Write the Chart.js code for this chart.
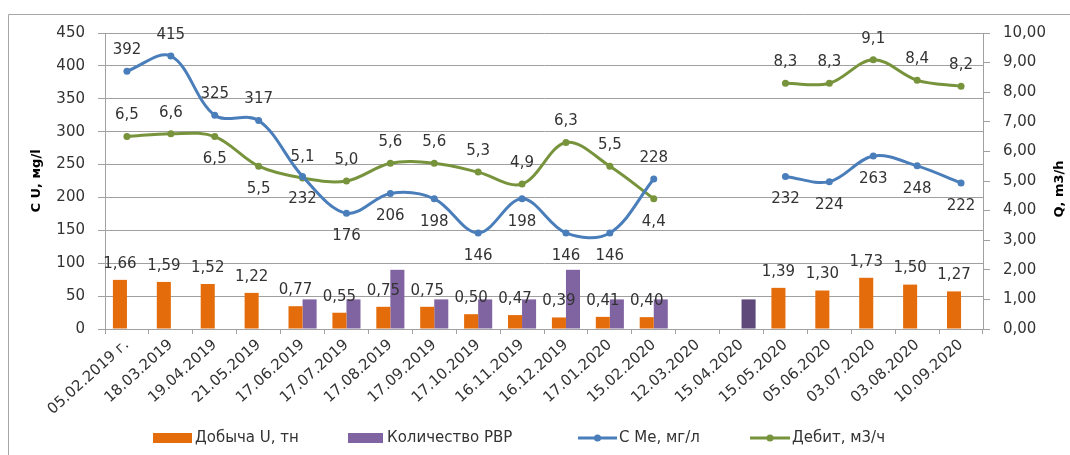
<!DOCTYPE html>
<html><head><meta charset="utf-8">
<script src="https://cdn.jsdelivr.net/npm/chart.js@4.4.1/dist/chart.umd.min.js"></script>
<style>html,body{margin:0;padding:0;background:#fff}#wrap{width:1070px;height:455px;position:relative}</style>
</head><body><div id="wrap"><canvas id="c" width="1070" height="455"></canvas></div>
<script>
const categories = ['05.02.2019 г.','18.03.2019','19.04.2019','21.05.2019','17.06.2019','17.07.2019','17.08.2019','17.09.2019','17.10.2019','16.11.2019','16.12.2019','17.01.2020','15.02.2020','12.03.2020','15.04.2020','15.05.2020','05.06.2020','03.07.2020','03.08.2020','10.09.2020'];
const uProduction = [1.66,1.59,1.52,1.22,0.77,0.55,0.75,0.75,0.50,0.47,0.39,0.41,0.40,null,null,1.39,1.30,1.73,1.50,1.27];
const rvrCount = [null,null,null,null,1,1,2,1,1,1,2,1,1,null,1,null,null,null,null,null];
const cMe = [392,415,325,317,232,176,206,198,146,198,146,146,228,null,null,232,224,263,248,222];
const debit = [6.5,6.6,6.5,5.5,5.1,5.0,5.6,5.6,5.3,4.9,6.3,5.5,4.4,null,null,8.3,8.3,9.1,8.4,8.2];
const leftTickValues = [0,50,100,150,200,250,300,350,400,450];
const rightTickValues = [0,1,2,3,4,5,6,7,8,9,10];

// label placement (style): 'a' = above, 'b' = below
const cMeLabelSide = ['a','a','a','a','b','b','b','b','b','b','b','b','a','a','a','b','b','b','b','b'];
const debitLabelSide = ['a','a','b','b','a','a','a','a','a','a','a','a','b','a','a','a','a','a','a','a'];

const FONT = 'DejaVu Sans';
const TXT = '#333333';
const GRID = '#a0a0a0';
const C_ORANGE = '#e46c0a', C_PURPLE = '#8064a2', C_PURPLE_DARK = '#5f497a', C_BLUE = '#4a7ebb', C_GREEN = '#77933c';

const purpleColors = categories.map(c => c === '15.04.2020' ? C_PURPLE_DARK : C_PURPLE);
const comma = (v, d) => v.toFixed(d).replace('.', ',');

const labelsPlugin = {
  id: 'valueLabels',
  afterDatasetsDraw(chart) {
    const ctx = chart.ctx;
    ctx.save();
    ctx.font = '15px "' + FONT + '"';
    ctx.fillStyle = TXT;
    ctx.textAlign = 'center';
    ctx.textBaseline = 'middle';
    chart.data.datasets.forEach((ds, di) => {
      const meta = chart.getDatasetMeta(di);
      meta.data.forEach((el, i) => {
        const v = ds.data[i];
        if (v === null || v === undefined) return;
        if (ds.key === 'u') {
          ctx.fillText(comma(v, 2), el.x, el.y - 16);
        } else if (ds.key === 'c') {
          const dy = cMeLabelSide[i] === 'a' ? -21 : 23;
          ctx.fillText(String(v), el.x, el.y + dy);
        } else if (ds.key === 'q') {
          const dy = debitLabelSide[i] === 'a' ? -21 : 23;
          ctx.fillText(comma(v, 1), el.x, el.y + dy);
        }
      });
    });
    ctx.restore();
  }
};

const decorPlugin = {
  id: 'decor',
  beforeDraw(chart) {
    const ctx = chart.ctx;
    ctx.save();
    ctx.fillStyle = '#fff';
    ctx.fillRect(0, 0, chart.width, chart.height);
    ctx.strokeStyle = '#a6a6a6';
    ctx.lineWidth = 1;
    ctx.beginPath();
    ctx.moveTo(8.5, chart.height);
    ctx.lineTo(8.5, 14.5);
    ctx.lineTo(chart.width, 14.5);
    ctx.stroke();
    ctx.restore();
  },
  afterDraw(chart) {
    const ctx = chart.ctx;
    ctx.save();
    // right axis title, reading bottom to top
    ctx.font = 'bold 13px "' + FONT + '"';
    ctx.fillStyle = '#000';
    ctx.textAlign = 'center';
    ctx.textBaseline = 'middle';
    ctx.translate(1060, 189);
    ctx.rotate(-Math.PI / 2);
    ctx.fillText('Q, m3/h', 0, 0);
    ctx.restore();

    // legend
    ctx.save();
    ctx.font = '15px "' + FONT + '"';
    ctx.fillStyle = TXT;
    ctx.textBaseline = 'middle';
    const ly = 438;
    const ds = chart.data.datasets;
    ctx.fillStyle = C_ORANGE; ctx.fillRect(153, 433, 39, 10);
    ctx.fillStyle = TXT; ctx.fillText(ds[2].label, 195, ly);
    ctx.fillStyle = C_PURPLE; ctx.fillRect(348, 433, 35, 10);
    ctx.fillStyle = TXT; ctx.fillText(ds[3].label, 387, ly);
    const lineItem = (x0, x1, col, label, tx) => {
      ctx.strokeStyle = col; ctx.lineWidth = 3;
      ctx.beginPath(); ctx.moveTo(x0, ly); ctx.lineTo(x1, ly); ctx.stroke();
      ctx.fillStyle = col; ctx.beginPath(); ctx.arc((x0 + x1) / 2, ly, 3.5, 0, Math.PI * 2); ctx.fill();
      ctx.fillStyle = TXT; ctx.fillText(label, tx, ly);
    };
    lineItem(578, 617, C_BLUE, ds[0].label, 619);
    lineItem(750, 790, C_GREEN, ds[1].label, 792);
    ctx.restore();
  }
};

new Chart(document.getElementById('c'), {
  data: {
    labels: categories,
    datasets: [
      { type: 'line', key: 'c', label: 'С Ме, мг/л', data: cMe, yAxisID: 'y', order: 0,
        borderColor: C_BLUE, backgroundColor: C_BLUE, borderWidth: 3, pointRadius: 3.5, pointBorderWidth: 0,
        tension: 0.35, spanGaps: false, fill: false },
      { type: 'line', key: 'q', label: 'Дебит, м3/ч', data: debit, yAxisID: 'y1', order: 0,
        borderColor: C_GREEN, backgroundColor: C_GREEN, borderWidth: 3, pointRadius: 3.5, pointBorderWidth: 0,
        tension: 0.35, spanGaps: false, fill: false },
      { type: 'bar', key: 'u', label: 'Добыча U, тн', data: uProduction, yAxisID: 'y1', order: 1,
        backgroundColor: C_ORANGE, categoryPercentage: 0.64, barPercentage: 1.0 },
      { type: 'bar', key: 'r', label: 'Количество РВР', data: rvrCount, yAxisID: 'y1', order: 1,
        backgroundColor: purpleColors, categoryPercentage: 0.64, barPercentage: 1.0 }
    ]
  },
  options: {
    responsive: false,
    devicePixelRatio: 1,
    animation: false,
    layout: { padding: { top: 33, left: 0, right: 0, bottom: 0 } },
    plugins: { legend: { display: false }, tooltip: { enabled: false } },
    scales: {
      x: {
        type: 'category', offset: true,
        grid: { display: true, drawOnChartArea: false, offset: true, tickLength: 5, color: GRID },
        border: { display: true, color: GRID },
        ticks: { font: { family: FONT, size: 15 }, color: TXT, minRotation: 42, maxRotation: 42, autoSkip: false, padding: 2 },
        afterFit(s) { s.height = 126; }
      },
      y: {
        position: 'left', min: 0, max: 450,
        afterBuildTicks(s) { s.ticks = leftTickValues.map(v => ({ value: v })); },
        grid: { color: GRID, tickLength: 7 },
        border: { display: true, color: GRID },
        ticks: { font: { family: FONT, size: 15 }, color: TXT, padding: 13 },
        title: { display: true, text: 'C U, мg/l', color: '#000', font: { family: FONT, size: 13, weight: 'bold' }, padding: { top: 29, bottom: 0 } },
        afterFit(s) { s.width = 105; }
      },
      y1: {
        position: 'right', min: 0, max: 10,
        afterBuildTicks(s) { s.ticks = rightTickValues.map(v => ({ value: v })); },
        grid: { drawOnChartArea: false, color: GRID, tickLength: 7 },
        border: { display: true, color: GRID },
        ticks: { font: { family: FONT, size: 15 }, color: TXT, padding: 13, callback: v => comma(v, 2) },
        afterFit(s) { s.width = 87; }
      }
    }
  },
  plugins: [decorPlugin, labelsPlugin]
});
</script></body></html>
